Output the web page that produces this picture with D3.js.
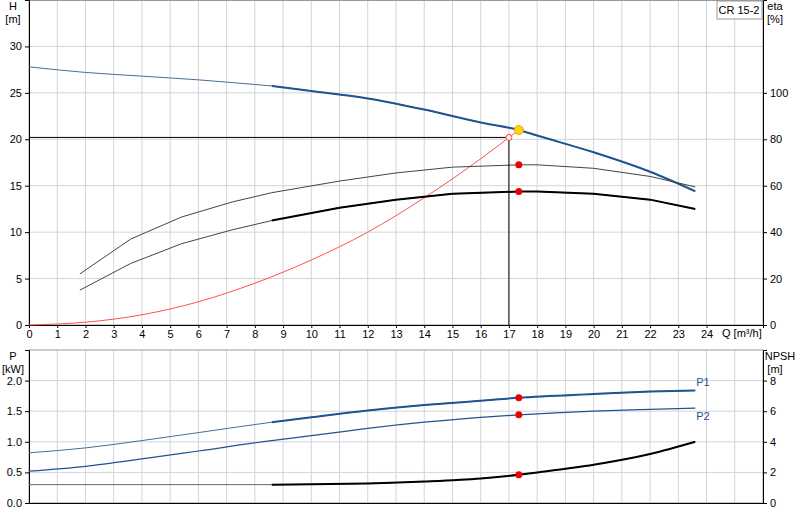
<!DOCTYPE html>
<html><head><meta charset="utf-8">
<script src="https://cdn.jsdelivr.net/npm/d3@7"></script>
<style>body{margin:0;background:#fff}svg{font:11px "Liberation Sans",Arial,sans-serif}</style>
</head><body><div id="chart"></div>
<script>
// pump curve data
var qTicks = d3.range(0, 25);
var hQ = [0, 2, 4, 6, 8, 8.6, 10, 12, 14, 16, 17.35, 18, 20, 22, 23.6];
var hVal = [27.8, 27.2, 26.8, 26.4, 25.9, 25.75, 25.2, 24.4, 23.2, 21.8, 21.0, 20.4, 18.6, 16.5, 14.4];
var etaQ = [1.8, 3.6, 5.4, 7.2, 8.6, 11, 13, 15, 17.35, 18, 20, 22, 23.6];
var etaP2 = [22, 37, 46.5, 53, 57, 62, 65.5, 68, 69, 69, 67.5, 64, 59.5];
var etaTot = [15, 26.5, 35, 41, 45, 50.5, 54, 56.5, 57.5, 57.5, 56.5, 54, 50];
var sysQ = [0, 2, 4, 6, 8, 10, 12, 14, 16, 17.35];
var sysH = [0, 0.3, 1.1, 2.5, 4.5, 7, 10, 13.7, 17.9, 21];
var pQ = [0, 2, 4, 6, 8.6, 10, 12, 14, 16, 17.35, 20, 22, 23.6];
var p1 = [0.82, 0.9, 1.02, 1.15, 1.32, 1.4, 1.51, 1.6, 1.67, 1.72, 1.78, 1.82, 1.84];
var p2 = [0.52, 0.6, 0.72, 0.85, 1.02, 1.1, 1.22, 1.32, 1.4, 1.44, 1.5, 1.53, 1.55];
var npshQ = [0, 8.6, 10, 12, 14, 16, 17.35, 18, 20, 22, 23.6];
var npsh = [1.2, 1.2, 1.22, 1.28, 1.4, 1.6, 1.85, 2.0, 2.5, 3.2, 4.0];
var duty = {q: 17, h: 20.2};
var opQ = 17.35;
var thickFrom = 8.6;

var svg = d3.select("#chart").append("svg").attr("width", 800).attr("height", 520);
var x = d3.scaleLinear().domain([0, 26]).range([29, 763]);
var yH = d3.scaleLinear().domain([0, 35]).range([325, 0]);
var yE = d3.scaleLinear().domain([0, 140]).range([325, 0]);
var yP = d3.scaleLinear().domain([0, 2.5]).range([503, 350]);
var yN = d3.scaleLinear().domain([0, 10]).range([503, 350]);
var grid = "#d0d4d8";

function pts(xs, ys) { return xs.map(function(q, i) { return [q, ys[i]]; }); }
function line(ys, c) { return d3.line().curve(c || d3.curveMonotoneX).x(function(d) { return x(d[0]); }).y(function(d) { return ys(d[1]); }); }
function draw(data, ys, color, w, c) {
  svg.append("path").datum(data).attr("d", line(ys, c)).attr("fill", "none").attr("stroke", color).attr("stroke-width", w);
}
// thin line over the full range, thick over the working range
function drawTwo(data, ys, thin, thick, w, c) {
  draw(data, ys, thin, 1, c);
  draw(data.filter(function(d) { return d[0] >= thickFrom; }), ys, thick, w, c);
}

// grids
[[0, 325], [350, 503]].forEach(function(r) {
  svg.append("g").selectAll("line").data(d3.range(1, 26)).join("line")
    .attr("x1", x).attr("x2", x).attr("y1", r[0]).attr("y2", r[1]).attr("stroke", grid);
});
svg.append("g").selectAll("line").data(d3.range(5, 35, 5)).join("line")
  .attr("x1", 29).attr("x2", 763).attr("y1", yH).attr("y2", yH).attr("stroke", grid);
svg.append("g").selectAll("line").data(d3.range(0.5, 2.5, 0.5)).join("line")
  .attr("x1", 29).attr("x2", 763).attr("y1", yP).attr("y2", yP).attr("stroke", grid);
svg.append("rect").attr("x", 29).attr("y", 0.5).attr("width", 734).attr("height", 324.5).attr("fill", "none").attr("stroke", "#999");
svg.append("rect").attr("x", 29).attr("y", 350).attr("width", 734).attr("height", 153).attr("fill", "none").attr("stroke", "#999");

// axes
svg.append("g").attr("transform", "translate(29,0)").call(d3.axisLeft(yH).tickValues(d3.range(0, 35, 5)).tickSize(4).tickPadding(3));
svg.append("g").attr("transform", "translate(763,0)").call(d3.axisRight(yE).tickValues(d3.range(0, 120, 20)).tickSize(4).tickPadding(3));
svg.append("g").attr("transform", "translate(0,325)").call(d3.axisBottom(x).tickValues(qTicks).tickSize(3).tickPadding(2));
svg.append("g").attr("transform", "translate(29,0)").call(d3.axisLeft(yP).tickValues(d3.range(0, 2.5, 0.5)).tickFormat(d3.format(".1f")).tickSize(4).tickPadding(3));
svg.append("g").attr("transform", "translate(763,0)").call(d3.axisRight(yN).tickValues(d3.range(0, 10, 2)).tickSize(4).tickPadding(3));
svg.append("g").attr("transform", "translate(0,503)").call(d3.axisBottom(x).tickValues([]).tickSize(0));
svg.selectAll(".domain").attr("stroke", "#000");
svg.selectAll(".tick text").attr("fill", "#000").style("font-size", "11px");

// axis titles
function txt(t, px, py, anchor, col) {
  svg.append("text").attr("x", px).attr("y", py).attr("text-anchor", anchor || "middle").attr("fill", col || "#000").text(t);
}
txt("H", 13, 10); txt("[m]", 13, 23);
txt("eta", 775, 10); txt("[%]", 775, 23);
txt("Q [m³/h]", 722, 337, "start");
txt("P", 13, 360); txt("[kW]", 13, 373);
txt("NPSH", 780, 360); txt("[m]", 775, 373);
svg.append("rect").attr("x", 717).attr("y", 1).attr("width", 45).attr("height", 18).attr("fill", "#fff").attr("stroke", "#999");
txt("CR 15-2", 739, 14);

// top curves
draw(pts(sysQ, sysH), yH, "#ff5050", 1);
drawTwo(pts(hQ, hVal), yH, "#4a6d96", "#1f5490", 2);
draw(pts(etaQ, etaP2), yE, "#444", 1, d3.curveLinear);
drawTwo(pts(etaQ, etaTot), yE, "#444", "#000", 2, d3.curveLinear);
svg.append("path").attr("d", d3.line()([[x(0), yH(duty.h)], [x(duty.q), yH(duty.h)], [x(duty.q), yH(0)]]))
  .attr("fill", "none").attr("stroke", "#000").attr("stroke-width", 1);
svg.append("circle").attr("cx", x(duty.q)).attr("cy", yH(duty.h)).attr("r", 3).attr("fill", "#fff").attr("stroke", "#f33");
svg.append("circle").attr("cx", x(opQ)).attr("cy", yH(hVal[hQ.indexOf(opQ)])).attr("r", 4.5).attr("fill", "#ffd700").attr("stroke", "#f5a000");
[etaP2, etaTot].forEach(function(s) {
  svg.append("circle").attr("cx", x(opQ)).attr("cy", yE(s[etaQ.indexOf(opQ)])).attr("r", 3.5).attr("fill", "#e00");
});

// bottom curves
drawTwo(pts(pQ, p1), yP, "#4a6d96", "#1f5490", 2);
draw(pts(pQ, p2), yP, "#1f5490", 1.2);
drawTwo(pts(npshQ, npsh), yN, "#666", "#000", 2);
[[p1, yP, pQ], [p2, yP, pQ], [npsh, yN, npshQ]].forEach(function(s) {
  svg.append("circle").attr("cx", x(opQ)).attr("cy", s[1](s[0][s[2].indexOf(opQ)])).attr("r", 3.5).attr("fill", "#e00");
});
txt("P1", 703, 386, "middle", "#1f5490");
txt("P2", 703, 420, "middle", "#1f5490");
</script></body></html>
